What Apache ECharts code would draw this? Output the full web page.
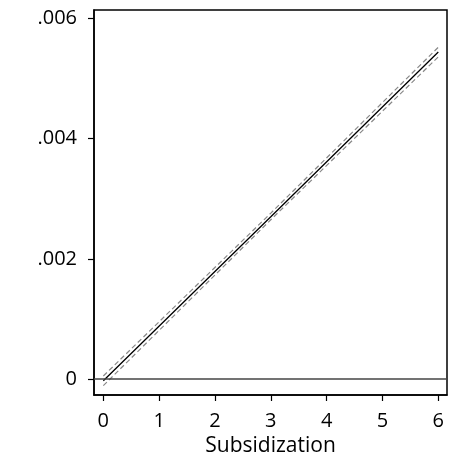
<!DOCTYPE html>
<html>
<head>
<meta charset="utf-8">
<script src="https://cdn.jsdelivr.net/npm/echarts@6/dist/echarts.min.js"></script>
<style>
  html, body { margin: 0; padding: 0; background: #fff; }
  #chart { width: 456px; height: 459px; }
</style>
</head>
<body>
<div id="chart"></div>
<script>
// Marginal effect of subsidization, with dashed confidence bounds.
const subsidization = [0, 3, 6];
const fitted = [-0.00003, 0.0027, 0.00544];
const lowerBound = [-0.00011, 0.00265, 0.00536];
const upperBound = [0.00005, 0.00276, 0.00552];

const xTicks = [0, 1, 2, 3, 4, 5, 6];
const yTicks = [0, 0.002, 0.004, 0.006];

const FONT = 'Open Sans';
const INK = '#000';

const pairs = ys => subsidization.map((x, i) => [x, ys[i]]);

const c = echarts.init(document.getElementById('chart'), null, { renderer: 'canvas' });
c.setOption({
  animation: false,
  textStyle: { fontFamily: FONT },
  grid: {
    left: 94, top: 10, right: 9, bottom: 64, show: true, borderColor: INK, borderWidth: 1.5,
    outerBoundsMode: 'none',
  },
  xAxis: {
    type: 'value', min: -0.167, max: 6.156,
    name: 'Subsidization', nameLocation: 'middle', nameGap: 39,
    nameTextStyle: { color: INK, fontSize: 21, fontFamily: FONT },
    axisLine: { onZero: false, lineStyle: { color: INK, width: 1.5 } },
    axisTick: { show: true, length: 6, lineStyle: { color: INK, width: 1.2 }, customValues: xTicks },
    axisLabel: { color: INK, fontSize: 20, margin: 16, customValues: xTicks },
    splitLine: { show: false },
  },
  yAxis: {
    type: 'value', min: -0.000266, max: 0.00614,
    axisLine: { onZero: false, lineStyle: { color: INK, width: 1.5 } },
    axisTick: { show: true, length: 6, lineStyle: { color: INK, width: 1.2 }, customValues: yTicks },
    axisLabel: {
      color: INK, fontSize: 20, margin: 17, customValues: yTicks,
      formatter: v => v === 0 ? '0' : String(+v.toFixed(3)).replace(/^0/, ''),
    },
    splitLine: { show: false },
  },
  series: [
    {
      type: 'line', data: pairs(fitted), showSymbol: false, silent: true,
      lineStyle: { color: INK, width: 1.3 },
      markLine: {
        silent: true, symbol: 'none', label: { show: false },
        lineStyle: { color: '#444', width: 1.5, type: 'solid' },
        data: [{ yAxis: 0 }],
      },
      z: 3,
    },
    {
      type: 'line', data: pairs(lowerBound), showSymbol: false, silent: true,
      lineStyle: { color: '#888', width: 1.2, type: [5, 3] },
    },
    {
      type: 'line', data: pairs(upperBound), showSymbol: false, silent: true,
      lineStyle: { color: '#888', width: 1.2, type: [5, 3] },
    },
  ],
});
</script>
</body>
</html>
